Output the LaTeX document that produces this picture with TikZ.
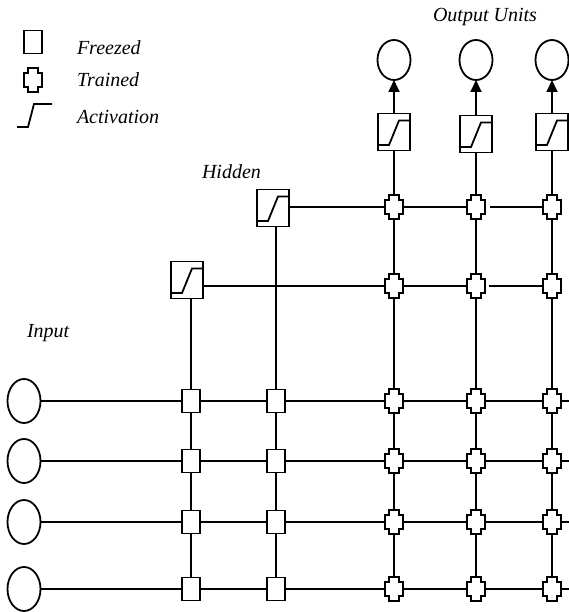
\documentclass[tikz,border=0pt]{standalone}
\usepackage{fontspec}
\setmainfont{Liberation Serif}
\usetikzlibrary{arrows.meta,shapes.geometric}
\begin{document}
\begin{tikzpicture}[x=1pt,y=-1pt,
  every node/.style={inner sep=0pt, outer sep=0pt},
  conn/.style={line width=1.8pt},
  unit/.style={ellipse, draw, line width=1.8pt, minimum width=33pt, minimum height=44pt},
  outunit/.style={ellipse, draw, line width=1.8pt, minimum width=33pt, minimum height=40pt},
  frz/.style={rectangle, draw, line width=1.9pt, fill=white, minimum width=18pt, minimum height=23pt},
  trn/.style={rectangle, minimum width=18pt, minimum height=24pt},
  act/.style={rectangle, draw, line width=1.9pt, fill=white, minimum width=32pt, minimum height=37pt,
    path picture={\draw[line width=1.8pt]
      ([yshift=5.5pt]path picture bounding box.south west) -- ++(11,0)
      -- ([xshift=-11pt,yshift=-7pt]path picture bounding box.north east)
      -- ([yshift=-7pt]path picture bounding box.north east);}},
  lbl/.style={font=\itshape\fontsize{20}{24}\selectfont, anchor=base west},
  tshape/.style={line width=1.8pt, fill=white},
  arr/.style={conn, -{Triangle[length=12pt,width=11pt]}}
]
\useasboundingbox (0,0) rectangle (569,612);

% legend
\node[frz] (lf) at (33,42) {};
\node[trn] (lt) at (33,80) {};
\draw[line width=1.8pt] (17,127) -- (28,127) -- (34,104) -- (52,104);
\node[lbl] (lfl) at (77,55) {Freezed};
\node[lbl] (ltl) at (77,87) {Trained};
\node[lbl] (lal) at (77,124) {Activation};

% labels
\node[lbl] (hidl) at (202,179) {Hidden};
\node[lbl] (outl) at (433,22) {Output Units};
\node[lbl] (inl) at (27,337) {Input};

% input units
\node[unit] (in1) at (24,401) {};
\node[unit] (in2) at (24,461) {};
\node[unit] (in3) at (24,522) {};
\node[unit] (in4) at (24,589) {};

% output units and activations
\node[outunit] (o1) at (394,60) {};
\node[outunit] (o2) at (476,60) {};
\node[outunit] (o3) at (552,60) {};
\node[act] (oa1) at (394,132) {};
\node[act] (oa2) at (476,134) {};
\node[act] (oa3) at (552,132) {};

% hidden activations
\node[act] (hA) at (273,208) {};
\node[act] (hB) at (187,280) {};

% trained nodes in hidden rows
\node[trn] (ta1) at (394,207) {};
\node[trn] (ta2) at (476,207) {};
\node[trn] (ta3) at (552,207) {};
\node[trn] (tb1) at (394,286) {};
\node[trn] (tb2) at (476,286) {};
\node[trn] (tb3) at (552,286) {};

% input rows
\foreach \r/\y in {1/401,2/461,3/522,4/589}{
  \node[frz] (f\r1) at (191,\y) {};
  \node[frz] (f\r2) at (276,\y) {};
  \node[trn] (t\r1) at (394,\y) {};
  \node[trn] (t\r2) at (476,\y) {};
  \node[trn] (t\r3) at (552,\y) {};
  \coordinate (e\r) at (569,\y);
}

% horizontal connectors
\foreach \r in {1,2,3,4}{
  \draw[conn] (in\r) -- (f\r1) -- (f\r2) -- (t\r1) -- (t\r2) -- (t\r3) -- (e\r);
}
\draw[conn, shorten <=5pt] (hA.east |- ta1) -- (ta1) -- (ta2) -- (ta3);
\draw[conn, shorten <=4pt] (hB.east |- tb1) -- (tb1) -- (tb2) -- (tb3);

% vertical connectors
\draw[conn] (hB.south -| f11) -- (f11) -- (f21) -- (f31) -- (f41);
\draw[conn] (hA.south -| f12) -- (f12) -- (f22) -- (f32) -- (f42);
\foreach \c in {1,2,3}{
  \draw[conn] (oa\c) -- (ta\c) -- (tb\c) -- (t1\c) -- (t2\c) -- (t3\c) -- (t4\c);
  \draw[arr] (oa\c) -- (o\c);
}

% trained shapes
\foreach \n in {lt,ta1,ta2,ta3,tb1,tb2,tb3,t11,t12,t13,t21,t22,t23,t31,t32,t33,t41,t42,t43}{
  \draw[tshape] ([xshift=4pt]\n.north west) -- ([xshift=-4pt]\n.north east) -- ++(0,5) -- ++(4,0)
    -- ([yshift=5pt]\n.south east) -- ++(-4,0) -- ++(0,5) -- ++(-10,0) -- ++(0,-5) -- ++(-4,0)
    -- ([yshift=-5pt]\n.north west) -- ++(4,0) -- cycle;
}
\end{tikzpicture}
\end{document}
